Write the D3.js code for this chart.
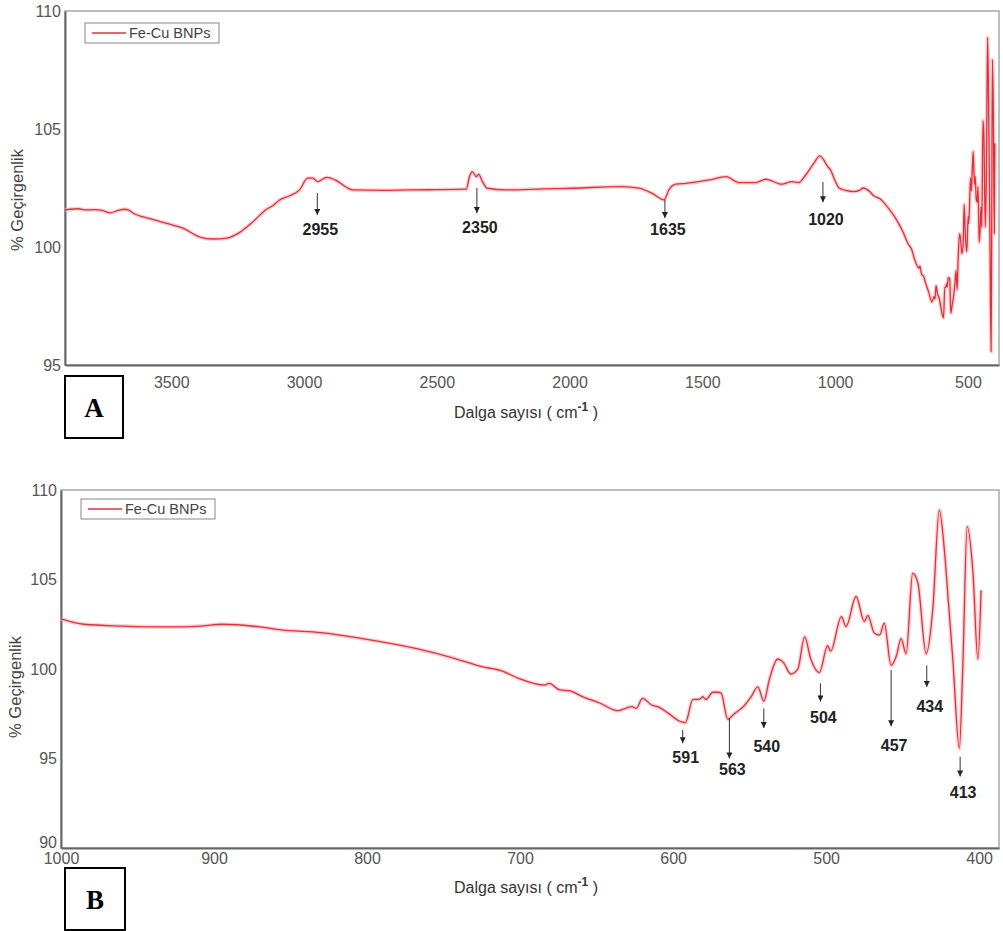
<!DOCTYPE html>
<html>
<head>
<meta charset="utf-8">
<script src="https://cdn.jsdelivr.net/npm/d3@7"></script>
<style>
  body { margin: 0; background: #fff; }
  svg { display: block; font-family: Arial, "Liberation Sans", sans-serif; }
  .tick text { fill: #555; font-size: 16px; }
  .peak { font-weight: bold; font-size: 16px; fill: #222; }
</style>
</head>
<body>
<script>
// FTIR spectrum, Fe-Cu BNPs (wavenumber in cm-1, % transmittance)
const waveHigh = [3900, 3880, 3850, 3820, 3790, 3760, 3730, 3700, 3675, 3660, 3644, 3580, 3517, 3456,
  3392, 3343, 3290, 3242, 3193, 3141, 3118, 3092, 3054, 3017, 2986, 2967, 2949, 2915, 2877, 2840,
  2817, 2700, 2600, 2500, 2389, 2377, 2366, 2351, 2343, 2328, 2310, 2238, 2100, 1990, 1802, 1738,
  1689, 1644, 1626, 1600, 1562, 1475, 1411, 1362, 1299, 1261, 1201, 1163, 1137, 1111, 1080, 1058,
  1043, 1032, 1017];
const transHigh = [101.57, 101.6, 101.62, 101.57, 101.58, 101.55, 101.45, 101.55, 101.6, 101.56, 101.44,
  101.2, 101.0, 100.8, 100.42, 100.34, 100.38, 100.62, 101.06, 101.6, 101.75, 101.99, 102.17, 102.42,
  102.92, 102.92, 102.77, 102.95, 102.81, 102.53, 102.42, 102.4, 102.42, 102.43, 102.45, 102.98,
  103.19, 102.98, 103.09, 102.77, 102.49, 102.42, 102.46, 102.49, 102.56, 102.49, 102.27, 102.0,
  102.42, 102.66, 102.7, 102.84, 102.98, 102.73, 102.73, 102.87, 102.66, 102.77, 102.73, 103.05,
  103.55, 103.86, 103.69, 103.47, 103.26];

const waveLow = [1000, 985, 960, 930, 908, 895, 870, 856, 830, 804, 769, 743, 725, 712, 701, 684, 681,
  674, 668, 660, 648, 636, 627, 624, 620, 614, 609, 603, 595, 592, 587, 583, 580.6, 578.5, 574, 571,
  568.6, 564.3, 560, 553.5, 549, 544.6, 540.7, 537, 531.6, 528, 523, 518.5, 514, 510, 504.4, 499, 497,
  490, 487, 480.4, 475, 472.8, 468.4, 465, 462, 457.5, 454, 451, 447.7, 443.4, 440, 434.6, 430.3, 426,
  422.7, 420, 417.2, 412.9, 410.7, 407.8, 404.1, 400.8, 398.7];
const transLow = [102.8, 102.5, 102.4, 102.35, 102.4, 102.5, 102.35, 102.18, 102.03, 101.71, 101.16,
  100.6, 100.13, 99.9, 99.48, 99.1, 99.2, 98.83, 98.79, 98.49, 98.1, 97.67, 97.9, 97.8, 98.36, 97.99,
  97.86, 97.52, 97.06, 97.0, 98.3, 98.3, 98.45, 98.3, 98.7, 98.7, 98.65, 97.2, 97.5, 97.95, 98.45,
  99.0, 98.2, 99.44, 100.56, 100.37, 99.72, 99.99, 101.8, 100.56, 99.8, 101.3, 101.0, 102.93, 102.37,
  104.05, 102.65, 103.0, 102.0, 101.9, 102.56, 100.2, 100.75, 101.7, 100.85, 105.35, 104.8, 100.85,
  103.3, 108.88, 106.65, 103.67, 100.56, 95.57, 100.0, 107.95, 105.5, 100.56, 104.4];

// x ticks / y ticks
const xTicksA = [3500, 3000, 2500, 2000, 1500, 1000, 500];
const yTicksA = [95, 100, 105, 110];
const xTicksB = [1000, 900, 800, 700, 600, 500, 400];
const yTicksB = [90, 95, 100, 105, 110];

// peak annotations: label, arrow position, arrow start/end, label baseline (data units)
const peakLabelsA = ["2955", "2350", "1635", "1020"];
const peakWaveA = [2950, 2349, 1641, 1046];
const arrowTopA = [102.29, 102.5, 102.0, 102.75];
const arrowEndA = [101.36, 101.44, 101.23, 101.9];
const labelYA = [100.5, 100.6, 100.5, 100.93];

const peakLabelsB = ["591", "563", "540", "504", "457", "434", "413"];
const peakWaveB = [593.7, 563.2, 540.7, 503.7, 457.5, 434.2, 412.4];
const arrowTopB = [96.6, 97.25, 97.8, 99.2, 99.94, 100.2, 95.1];
const arrowEndB = [95.85, 95.0, 96.7, 98.18, 96.8, 99.0, 94.0];
const labelYB = [94.73, 94.08, 95.38, 96.96, 95.44, 97.6, 92.78];

const seriesName = "Fe-Cu BNPs";
const lineColor = "#e0303a";

const svg = d3.select("body").append("svg")
    .attr("width", 1003)
    .attr("height", 931);

const defs = svg.append("defs");
defs.append("marker")
    .attr("id", "head")
    .attr("viewBox", "0 0 10 10")
    .attr("refX", 5).attr("refY", 10)
    .attr("markerWidth", 6).attr("markerHeight", 8)
    .attr("markerUnits", "userSpaceOnUse")
    .attr("orient", "0")
    .append("path")
    .attr("d", "M0,0 L10,0 L5,10 Z")
    .attr("fill", "#222");

const drawPanel = (p) => {
    const g = svg.append("g");
    const x = d3.scaleLinear().domain(p.xDomain).range([p.left, p.right]);
    const y = d3.scaleLinear().domain(p.yDomain).range([p.bottom, p.top]);

    // frame
    g.append("rect")
        .attr("x", p.left).attr("y", p.top)
        .attr("width", p.right - p.left).attr("height", p.bottom - p.top)
        .attr("fill", "none").attr("stroke", "#a8a8a8").attr("stroke-width", 1.5);

    const xAxis = g.append("g")
        .attr("transform", "translate(0," + p.bottom + ")")
        .call(d3.axisBottom(x).tickValues(p.xTicks).tickSize(0).tickPadding(p.xPad).tickFormat(d3.format("d")));
    const yAxis = g.append("g")
        .attr("transform", "translate(" + p.left + ",0)")
        .call(d3.axisLeft(y).tickValues(p.yTicks).tickSize(0).tickPadding(4).tickFormat(d3.format("d")));
    xAxis.select(".domain").attr("stroke", "#666").attr("stroke-width", 2);
    yAxis.select(".domain").attr("stroke", "#666").attr("stroke-width", 2);
    g.selectAll(".tick text").attr("font-family", "Arial, 'Liberation Sans', sans-serif").attr("font-size", 16);
    // lowest y label sits just above the first x label
    yAxis.selectAll(".tick text").filter(d => d === p.yDomain[0] && p.liftMin).attr("dy", "-0.05em");

    // spectrum
    const pts = p.wave.map((w, i) => [w, p.trans[i]]);
    const line = d3.line()
        .x(d => x(d[0]))
        .y(d => y(d[1]))
        .curve(d3.curveMonotoneX);
    g.append("path")
        .attr("d", line(pts))
        .attr("fill", "none")
        .attr("stroke", "#f6b3b6")
        .attr("stroke-opacity", 0.6)
        .attr("stroke-width", 4);
    g.append("path")
        .attr("d", line(pts))
        .attr("fill", "none")
        .attr("stroke", lineColor)
        .attr("stroke-width", 1.3)
        .attr("stroke-linejoin", "round");

    // peak arrows
    p.labels.forEach((lab, i) => {
        const ax = x(p.at[i]);
        g.append("line")
            .attr("x1", ax).attr("x2", ax)
            .attr("y1", y(p.arrowTop[i])).attr("y2", y(p.arrowEnd[i]))
            .attr("stroke", "#333").attr("stroke-width", 1)
            .attr("marker-end", "url(#head)");
        g.append("text")
            .attr("class", "peak")
            .attr("x", ax + 3)
            .attr("y", y(p.labelY[i]))
            .attr("text-anchor", "middle")
            .text(lab);
    });

    // legend
    const lx = p.left + 20, ly = p.top + p.legendDy;
    g.append("rect")
        .attr("x", lx).attr("y", ly).attr("width", 134).attr("height", 20)
        .attr("fill", "#fff").attr("stroke", "#888").attr("stroke-width", 1);
    g.append("line")
        .attr("x1", lx + 7).attr("x2", lx + 41)
        .attr("y1", ly + 10).attr("y2", ly + 10)
        .attr("stroke", lineColor).attr("stroke-width", 1.4);
    g.append("text")
        .attr("x", lx + 44).attr("y", ly + 15)
        .attr("font-size", 14.5).attr("fill", "#444")
        .text(seriesName);

    // axis titles
    const xt = g.append("text")
        .attr("x", p.xTitle[0]).attr("y", p.xTitle[1])
        .attr("text-anchor", "middle")
        .attr("font-size", 16).attr("fill", "#333");
    xt.append("tspan").text("Dalga sayısı  ( cm");
    xt.append("tspan").attr("dy", -7).attr("font-size", 12).attr("font-weight", "bold").text("-1");
    xt.append("tspan").attr("dy", 7).text(" )");

    g.append("text")
        .attr("transform", "translate(" + p.yTitle[0] + "," + p.yTitle[1] + ") rotate(-90)")
        .attr("text-anchor", "middle")
        .attr("font-size", 16.5).attr("fill", "#444")
        .text("% Geçirgenlik");

    // panel letter box
    g.append("rect")
        .attr("x", p.box[0]).attr("y", p.box[1]).attr("width", p.box[2]).attr("height", p.box[3])
        .attr("fill", "#fff").attr("stroke", "#000").attr("stroke-width", 2);
    g.append("text")
        .attr("x", p.box[0] + p.box[2] / 2).attr("y", p.box[1] + p.box[3] / 2 + 10)
        .attr("text-anchor", "middle")
        .attr("font-family", "'Times New Roman', 'Liberation Serif', serif")
        .attr("font-weight", "bold").attr("font-size", 27)
        .text(p.letter);
};

drawPanel({
    left: 65, right: 999, top: 11, bottom: 365,
    xDomain: [3900, 383], yDomain: [95, 110],
    xTicks: xTicksA, yTicks: yTicksA, xPad: 12,
    wave: waveHigh.concat(waveLow), trans: transHigh.concat(transLow),
    labels: peakLabelsA, at: peakWaveA, arrowTop: arrowTopA, arrowEnd: arrowEndA, labelY: labelYA,
    legendDy: 12,
    xTitle: [526, 418], yTitle: [23, 200],
    box: [65, 376, 58, 62], letter: "A", liftMin: false
});

drawPanel({
    left: 61, right: 999, top: 490, bottom: 848,
    xDomain: [1000, 387], yDomain: [90, 110],
    xTicks: xTicksB, yTicks: yTicksB, xPad: 5,
    wave: waveLow, trans: transLow,
    labels: peakLabelsB, at: peakWaveB, arrowTop: arrowTopB, arrowEnd: arrowEndB, labelY: labelYB,
    legendDy: 9,
    xTitle: [526, 893], yTitle: [21, 687],
    box: [65, 868, 60, 62], letter: "B", liftMin: true
});
</script>
</body>
</html>
